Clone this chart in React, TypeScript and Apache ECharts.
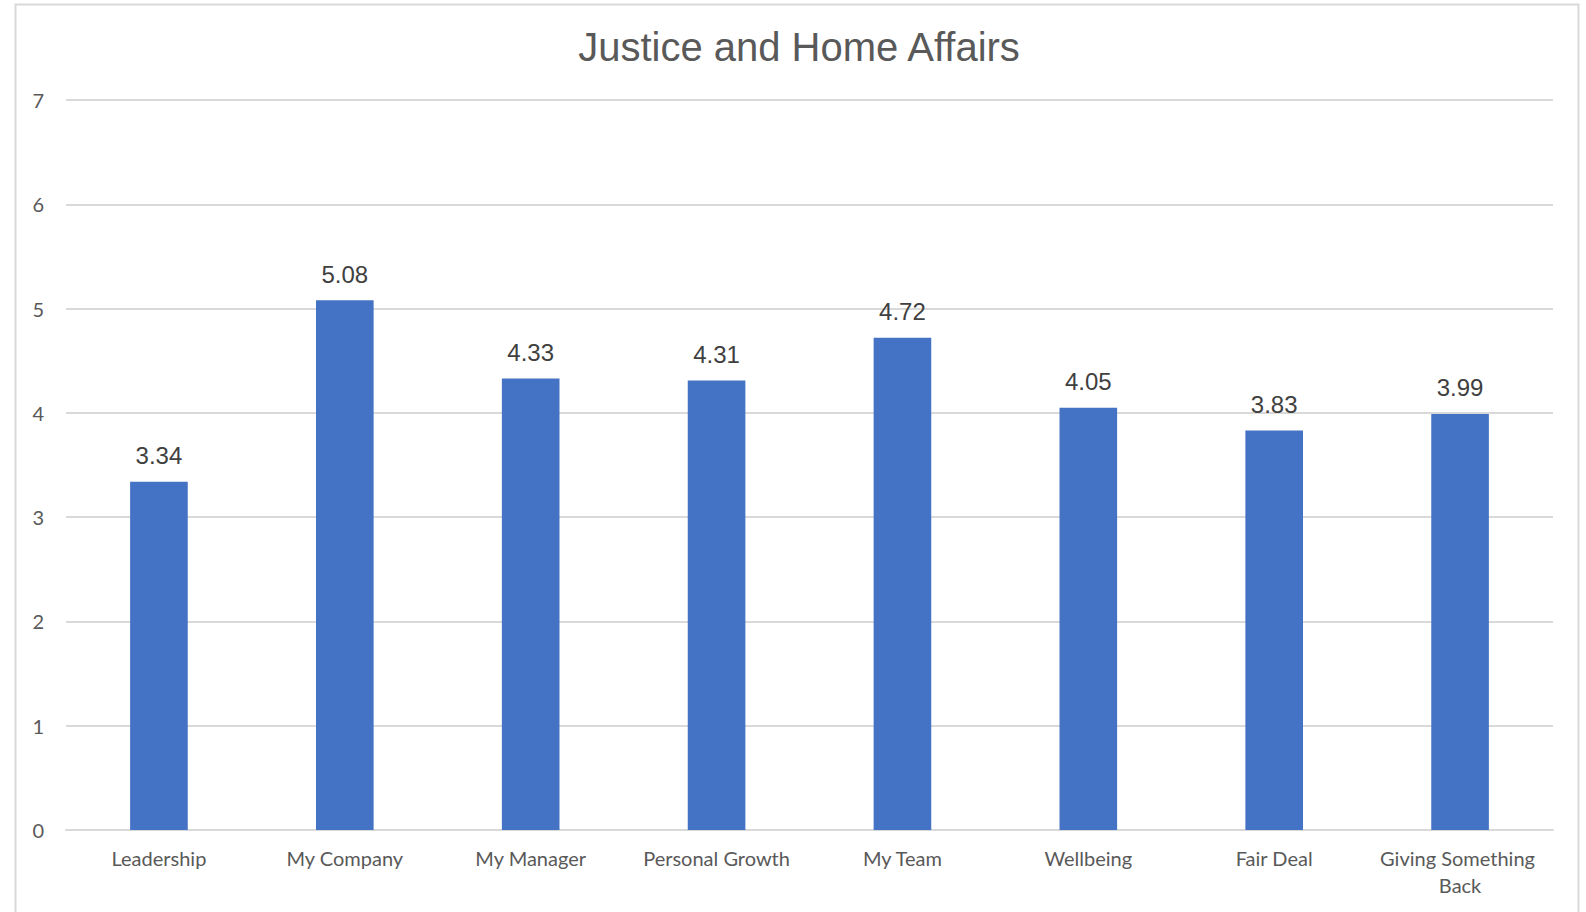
import React, { useEffect, useRef } from "react";
import * as echarts from "echarts";

const titleText = "Justice and Home Affairs";
const categories = [
  "Leadership",
  "My Company",
  "My Manager",
  "Personal Growth",
  "My Team",
  "Wellbeing",
  "Fair Deal",
  "Giving Something Back",
];
const values = [3.34, 5.08, 4.33, 4.31, 4.72, 4.05, 3.83, 3.99];
const yMin = 0;
const yMax = 7;
const yInterval = 1;

export default function App() {
  const ref = useRef<HTMLDivElement>(null);
  useEffect(() => {
    if (!ref.current) return;
    const chart = echarts.init(ref.current, null, { renderer: "svg" });
    chart.setOption({
      animation: false,
      backgroundColor: "#ffffff",
      title: {
        text: titleText,
        left: 794,
        textAlign: "center",
        top: 22,
        textStyle: {
          fontFamily: "Liberation Sans, Arial, sans-serif",
          fontSize: 40,
          fontWeight: "normal",
          color: "#595959",
        },
      },
      graphic: [
        {
          type: "rect",
          shape: { x: 15.5, y: 4.5, width: 1563, height: 930 },
          style: { fill: "none", stroke: "#D9D9D9", lineWidth: 2 },
          silent: true,
          z: -1,
        },
      ],
      grid: { left: 66, right: 33, top: 100, bottom: 82, containLabel: false },
      xAxis: {
        type: "category",
        data: categories,
        axisLine: { show: true, lineStyle: { color: "#D9D9D9", width: 2 } },
        axisTick: { show: false },
        axisLabel: {
          color: "#595959",
          fontFamily: "Lato, sans-serif",
          fontSize: 20,
          margin: 14,
          width: 175,
          overflow: "break",
          lineHeight: 27,
          interval: 0,
        },
      },
      yAxis: {
        type: "value",
        min: yMin,
        max: yMax,
        interval: yInterval,
        axisLine: { show: false },
        axisTick: { show: false },
        splitLine: { lineStyle: { color: "#D9D9D9", width: 2 } },
        axisLabel: {
          color: "#595959",
          fontFamily: "Lato, sans-serif",
          fontSize: 20,
          margin: 22,
        },
      },
      series: [
        {
          type: "bar",
          data: values,
          barWidth: "31%",
          itemStyle: { color: "#4472C4" },
          label: {
            show: true,
            position: "top",
            distance: 14,
            color: "#404040",
            fontFamily: "Liberation Sans, Arial, sans-serif",
            fontSize: 24,
            formatter: (p: any) => p.value.toFixed(2),
          },
        },
      ],
    });
    return () => chart.dispose();
  }, []);
  return (
    <div
      ref={ref}
      style={{ position: "fixed", left: 0, top: 0, width: 1586, height: 912 }}
    />
  );
}
